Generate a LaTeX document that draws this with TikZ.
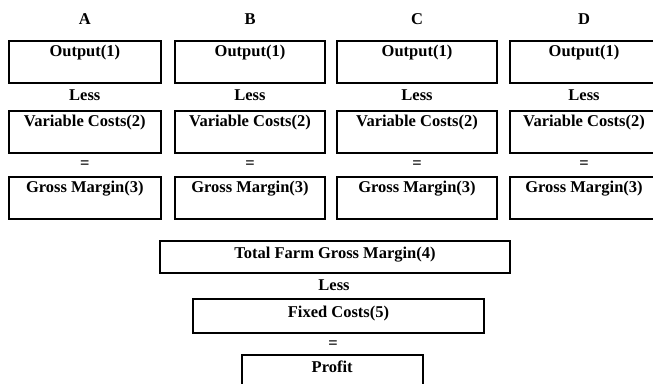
\documentclass[tikz,border=0pt]{standalone}
\usepackage{fontspec}
\setmainfont{Liberation Serif}
\usetikzlibrary{positioning}

\tikzset{
  rowbox/.style={draw, line width=1.9pt, inner sep=2pt, text height=13pt, text depth=25pt},
  sumbox/.style={draw, line width=1.9pt, inner sep=2pt},
  word/.style={inner sep=0pt, anchor=base}
}

\begin{document}
\begin{tikzpicture}[x=1pt,y=-1pt,font=\fontsize{16.5}{18}\selectfont\bfseries]
    \useasboundingbox (0,0) rectangle (653,383);
    \clip (0,0) rectangle (653,383);
    % column A
    \node [word] (hA) at (84.8,24) {A};
    \node [rowbox,minimum width=152pt] (outA) at (84.8,62.3) {Output(1)};
    \node [word] (lessA) at (84.8,100) {Less};
    \node [rowbox,minimum width=152pt] (varA) at (84.8,132) {Variable Costs(2)};
    \node [word] (eqA) at (84.8,168) {=};
    \node [rowbox,minimum width=152pt] (gmA) at (84.8,198) {Gross Margin(3)};
    % column B
    \node [word] (hB) at (250,24) {B};
    \node [rowbox,minimum width=150pt] (outB) at (250,62.3) {Output(1)};
    \node [word] (lessB) at (250,100) {Less};
    \node [rowbox,minimum width=150pt] (varB) at (250,132) {Variable Costs(2)};
    \node [word] (eqB) at (250,168) {=};
    \node [rowbox,minimum width=150pt] (gmB) at (250,198) {Gross Margin(3)};
    % column C
    \node [word] (hC) at (417,24) {C};
    \node [rowbox,minimum width=160pt] (outC) at (417,62.3) {Output(1)};
    \node [word] (lessC) at (417,100) {Less};
    \node [rowbox,minimum width=160pt] (varC) at (417,132) {Variable Costs(2)};
    \node [word] (eqC) at (417,168) {=};
    \node [rowbox,minimum width=160pt] (gmC) at (417,198) {Gross Margin(3)};
    % column D
    \node [word] (hD) at (584,24) {D};
    \node [rowbox,minimum width=148pt] (outD) at (584,62.3) {Output(1)};
    \node [word] (lessD) at (584,100) {Less};
    \node [rowbox,minimum width=148pt] (varD) at (584,132) {Variable Costs(2)};
    \node [word] (eqD) at (584,168) {=};
    \node [rowbox,minimum width=148pt] (gmD) at (584,198) {Gross Margin(3)};
    % whole farm
    \node [sumbox,minimum width=350pt,text height=15.3pt,text depth=13.3pt] (total) at (335,257) {Total Farm Gross Margin(4)};
    \node [word] (lessT) at (334,290.7) {Less};
    \node [sumbox,minimum width=291.6pt,text height=15.7pt,text depth=14.3pt] (fixed) at (338.5,316.3) {Fixed Costs(5)};
    \node [word] (eqT) at (333,348) {=};
    \node [sumbox,minimum width=181pt,text height=15.4pt,text depth=14.6pt] (profit) at (332.2,372.3) {Profit};
\end{tikzpicture}
\end{document}
